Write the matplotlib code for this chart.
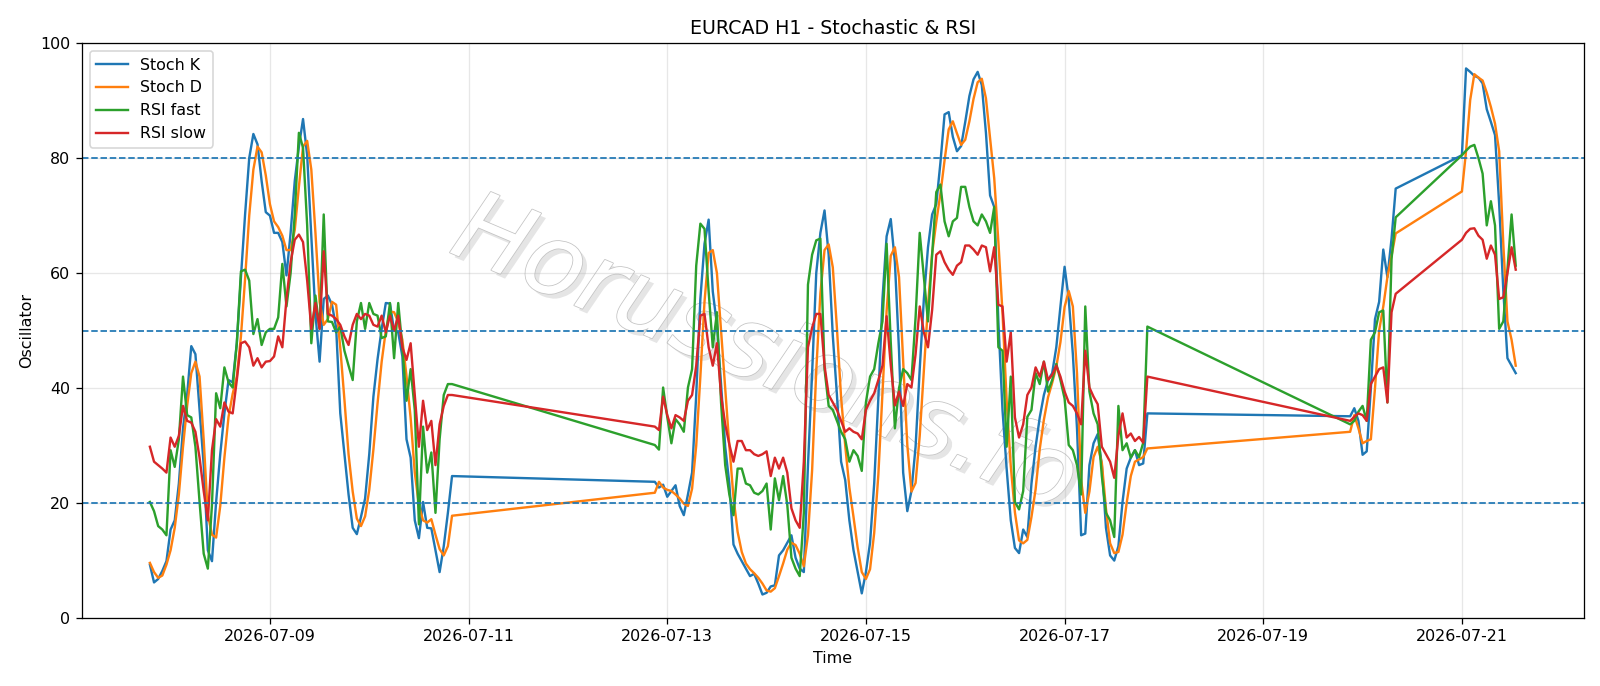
import pandas as pd
import matplotlib
matplotlib.use("Agg")
import matplotlib.pyplot as plt
import matplotlib.dates as mdates
import matplotlib.patheffects as pe

# hourly bars, market closed over the weekend + a hole on 07-20
segments = [("2026-07-07 19:00", "2026-07-10 20:00"),
            ("2026-07-12 21:00", "2026-07-17 20:00"),
            ("2026-07-19 21:00", "2026-07-20 08:00"),
            ("2026-07-21 00:00", "2026-07-21 13:00")]

stoch_k = [
    # 07-07 19:00 -> 07-10 20:00
    9.3, 6.2, 6.8, 8.2, 9.9, 15.4, 17.0, 23.4, 33.0, 38.8,
    47.3, 45.9, 36.2, 26.6, 11.8, 9.9, 20.2, 28.5, 35.6, 41.4,
    41.0, 47.8, 59.3, 70.2, 80.0, 84.2, 82.4, 76.0, 70.6, 70.0,
    67.0, 67.0, 65.4, 59.6, 67.0, 76.0, 82.0, 86.8, 80.5, 66.4,
    52.9, 44.6, 55.5, 56.1, 54.5, 50.5, 35.6, 28.5, 21.5, 15.7,
    14.6, 17.6, 20.8, 28.5, 38.5, 45.0, 50.3, 54.8, 54.7, 50.0,
    49.7, 45.5, 31.1, 27.9, 17.0, 13.9, 20.2, 15.7, 15.6, 11.8,
    8.0, 12.5, 18.3, 24.7,
    # 07-12 21:00 -> 07-17 20:00
    23.7, 22.7, 23.2, 21.1, 22.1, 23.1, 19.5, 17.9, 21.5, 25.3,
    38.8, 55.5, 65.1, 69.3, 56.8, 51.0, 40.7, 29.8, 23.4, 12.8,
    11.2, 9.9, 8.6, 7.3, 7.7, 6.0, 4.1, 4.4, 5.5, 5.7,
    10.9, 11.8, 13.1, 14.4, 10.5, 8.6, 8.0, 26.6, 42.6, 60.0,
    67.0, 70.9, 63.2, 49.1, 38.8, 27.2, 24.0, 17.0, 11.8, 8.0,
    4.3, 8.0, 13.1, 23.4, 38.2, 55.5, 66.4, 69.4, 61.9, 46.5,
    25.3, 18.6, 22.1, 29.8, 43.3, 55.5, 64.5, 70.2, 72.0, 79.2,
    87.6, 88.0, 83.7, 81.2, 82.1, 86.3, 90.8, 93.7, 95.0, 92.7,
    84.4, 73.5, 71.5, 51.6, 36.2, 26.0, 17.0, 12.2, 11.3, 15.4,
    14.1, 23.4, 29.8, 34.9, 38.8, 41.4, 42.6, 47.1, 54.2, 61.1,
    55.5, 45.9, 33.0, 14.4, 14.7, 26.6, 30.4, 32.0, 26.6, 15.7,
    10.9, 10.0, 12.5, 20.2, 26.0, 27.9, 29.2, 26.6, 26.9, 35.6,
    # 07-19 21:00 -> 07-20 08:00
    35.1, 36.5, 34.3, 28.4, 29.0, 40.0, 52.0, 55.0, 64.1, 59.3, 66.0, 74.7,
    # 07-21 00:00 -> 13:00
    80.5, 95.6, 95.0, 94.3, 94.0, 93.0, 88.5, 86.3, 84.0, 72.0, 57.0, 45.2, 43.9, 42.6,
]

stoch_d = [
    9.6, 8.0, 7.0, 7.4, 9.3, 11.8, 15.7, 21.5, 29.8, 36.9,
    42.6, 44.6, 42.0, 31.0, 18.0, 14.5, 14.0, 19.5, 27.9, 35.0,
    39.0, 42.0, 49.0, 59.0, 70.0, 78.0, 82.0, 81.0, 77.0, 72.0,
    69.0, 68.0, 66.5, 64.0, 64.0, 67.5, 75.0, 82.0, 83.0, 78.0,
    67.0, 55.0, 51.0, 52.0, 55.0, 54.5, 47.0, 38.0, 28.5, 22.0,
    17.3, 16.0, 17.7, 22.3, 29.3, 37.3, 44.6, 50.0, 53.3, 53.2,
    51.5, 48.4, 42.1, 34.8, 25.3, 19.6, 17.0, 16.6, 17.2, 14.5,
    12.0, 10.9, 12.5, 17.8,
    21.8, 23.7, 22.7, 22.3, 22.1, 21.5, 20.8, 19.9, 19.5, 22.5,
    30.0, 42.0, 55.0, 63.5, 64.0, 60.0, 50.0, 40.0, 30.0, 21.0,
    15.0, 11.5, 9.5, 8.5, 7.8, 7.0, 6.0, 4.8, 4.6, 5.2,
    7.3, 9.5, 11.9, 13.1, 12.7, 11.2, 9.0, 14.4, 25.7, 43.0,
    56.5, 64.0, 65.0, 61.0, 50.4, 38.4, 30.0, 22.7, 17.6, 12.3,
    8.0, 6.8, 8.5, 14.8, 24.9, 39.0, 53.4, 63.0, 64.5, 59.3,
    44.6, 30.1, 22.0, 23.5, 31.7, 42.9, 54.4, 63.4, 68.9, 73.8,
    79.6, 85.0, 86.4, 84.3, 82.3, 83.2, 86.4, 90.3, 93.2, 93.8,
    90.4, 83.5, 76.5, 65.5, 53.1, 37.9, 26.4, 18.4, 13.5, 13.0,
    13.6, 17.6, 22.4, 29.4, 34.5, 38.4, 40.9, 43.7, 48.0, 54.1,
    56.9, 54.2, 42.6, 24.0, 18.3, 22.0, 28.0, 29.8, 27.0, 19.0,
    13.0, 11.3, 11.5, 14.5, 20.0, 24.7, 27.2, 27.6, 28.0, 29.5,
    32.4, 35.3, 33.0, 30.4, 30.8, 31.1, 40.0, 50.0, 54.2, 59.3, 63.0, 66.9,
    74.2, 81.2, 90.1, 94.6, 94.0, 93.5, 91.4, 88.9, 86.0, 81.2, 65.1, 51.6, 48.4, 43.9,
]

rsi_fast = [
    20.2, 18.6, 16.0, 15.4, 14.4, 29.2, 26.3, 31.1, 42.0, 35.3,
    34.9, 29.8, 20.2, 11.2, 8.6, 19.7, 39.1, 36.5, 43.6, 41.0,
    40.1, 47.8, 60.3, 60.6, 58.7, 49.4, 52.0, 47.5, 49.7, 50.3,
    50.3, 52.3, 61.6, 54.2, 60.0, 70.2, 84.4, 81.8, 68.3, 47.8,
    56.1, 50.3, 70.2, 51.6, 51.5, 49.7, 50.7, 46.5, 43.9, 41.4,
    51.6, 54.8, 50.3, 54.8, 52.9, 52.6, 48.7, 49.0, 54.8, 45.2,
    54.8, 47.1, 37.8, 43.3, 36.2, 16.3, 33.3, 25.3, 28.8, 18.3,
    31.1, 38.8, 40.7, 40.7,
    30.1, 29.3, 40.1, 35.0, 30.4, 34.6, 33.7, 32.4, 40.1, 43.3,
    61.3, 68.6, 67.7, 56.8, 47.1, 53.2, 37.5, 26.6, 21.5, 17.9,
    26.0, 26.0, 23.4, 23.1, 21.8, 21.5, 22.1, 23.4, 15.4, 24.3,
    20.5, 24.7, 19.7, 10.5, 8.6, 7.3, 18.3, 58.0, 63.2, 65.7,
    66.0, 43.3, 36.9, 36.2, 34.3, 32.4, 31.1, 27.2, 29.2, 28.2,
    25.6, 37.5, 42.0, 43.3, 47.8, 51.6, 65.1, 48.0, 33.0, 40.0,
    43.3, 42.6, 41.4, 52.3, 67.0, 59.3, 51.6, 63.2, 74.1, 75.4,
    69.0, 66.4, 69.0, 69.6, 75.0, 75.0, 71.5, 69.0, 68.3, 70.2,
    69.0, 67.0, 71.5, 47.1, 46.5, 29.8, 42.0, 20.2, 18.9, 22.1,
    35.0, 36.2, 42.6, 40.7, 44.6, 39.4, 41.4, 44.2, 41.4, 38.2,
    30.1, 29.2, 26.6, 21.5, 54.2, 39.4, 35.6, 33.7, 24.7, 18.3,
    17.0, 14.1, 36.9, 29.2, 30.4, 27.9, 29.2, 28.0, 30.5, 50.7,
    33.7, 34.3, 35.9, 36.9, 34.3, 48.4, 49.7, 53.2, 53.5, 37.5, 62.5, 69.7,
    80.5, 81.3, 82.0, 82.3, 80.0, 77.3, 68.3, 72.5, 68.3, 50.3, 51.6, 60.6, 70.2, 61.3,
]

rsi_slow = [
    29.8, 27.2, 26.6, 26.0, 25.3, 31.4, 29.8, 31.7, 36.9, 34.3,
    34.0, 32.4, 27.9, 22.1, 17.0, 29.2, 34.6, 33.3, 37.5, 35.9,
    35.6, 41.4, 47.8, 48.1, 47.1, 43.9, 45.2, 43.6, 44.6, 44.7,
    45.5, 49.0, 47.1, 55.5, 61.9, 65.8, 66.7, 65.4, 58.7, 50.3,
    54.8, 50.3, 63.8, 52.9, 52.6, 52.0, 51.0, 49.0, 47.5, 51.0,
    52.9, 52.0, 52.9, 52.6, 51.0, 50.7, 52.6, 49.7, 52.6, 50.0,
    52.6, 47.1, 44.9, 47.8, 38.8, 29.8, 37.8, 32.7, 34.3, 26.6,
    33.7, 36.9, 38.8, 38.8,
    33.3, 32.7, 38.5, 35.3, 33.0, 35.3, 34.9, 34.3, 37.8, 38.8,
    43.9, 52.6, 52.9, 47.1, 43.9, 47.8, 38.8, 33.7, 30.2, 27.2,
    30.8, 30.8, 29.2, 29.2, 28.5, 28.2, 28.5, 29.0, 24.7, 27.9,
    26.0, 27.9, 25.3, 19.1, 17.0, 15.7, 27.2, 47.1, 50.5, 52.9,
    52.9, 43.9, 38.8, 37.5, 36.2, 34.3, 32.4, 33.0, 32.4, 32.1,
    31.1, 36.2, 37.8, 39.1, 41.4, 43.9, 52.5, 44.0, 37.0, 39.4,
    36.9, 40.7, 40.1, 45.9, 54.2, 49.7, 47.1, 53.6, 63.2, 63.8,
    61.9, 60.6, 59.7, 61.3, 61.9, 64.8, 64.8, 64.1, 63.2, 64.8,
    64.5, 60.3, 64.5, 54.5, 54.2, 44.6, 49.7, 34.9, 31.4, 33.7,
    38.8, 40.1, 43.6, 42.0, 44.6, 41.4, 42.3, 43.9, 42.0, 39.4,
    37.5, 36.9, 35.6, 33.7, 46.5, 40.1, 38.5, 37.2, 29.8, 28.5,
    27.2, 24.4, 31.7, 35.6, 31.4, 32.1, 30.8, 31.5, 30.5, 42.0,
    34.3, 35.0, 35.6, 35.3, 34.3, 40.7, 42.0, 43.3, 43.6, 37.5, 53.2, 56.4,
    65.8, 67.0, 67.7, 67.8, 66.5, 65.8, 62.5, 64.8, 63.2, 55.5, 55.8, 60.0, 64.5, 60.6,
]

levels = [20, 50, 80]
tick_days = ["2026-07-09", "2026-07-11", "2026-07-13", "2026-07-15",
             "2026-07-17", "2026-07-19", "2026-07-21"]

times = pd.DatetimeIndex([])
for start, end in segments:
    times = times.append(pd.date_range(start, end, freq="h"))

dpi = 1600 / 14
fig, ax = plt.subplots(figsize=(14.0001, 686.1 / dpi), dpi=dpi)
fig.subplots_adjust(left=0.051, right=0.990, top=0.937, bottom=0.099)

ax.plot(times, stoch_k, label="Stoch K")
ax.plot(times, stoch_d, label="Stoch D")
ax.plot(times, rsi_fast, label="RSI fast")
ax.plot(times, rsi_slow, label="RSI slow")

for lv in levels:
    ax.axhline(lv, color="tab:blue", linestyle="--", linewidth=1.1)

ax.set_ylim(0, 100)
ax.set_xticks(pd.to_datetime(tick_days))
ax.xaxis.set_major_formatter(mdates.DateFormatter("%Y-%m-%d"))
ax.grid(True, alpha=0.3)
ax.set_title("EURCAD H1 - Stochastic & RSI")
ax.set_xlabel("Time")
ax.set_ylabel("Oscillator")
ax.legend(loc="upper left")

# watermark
ax.text(0.455, 0.455, "Horussions.fo", transform=ax.transAxes, fontsize=62,
        style="italic", color="white", rotation=-23, ha="center", va="center",
        zorder=0.5,
        path_effects=[pe.SimplePatchShadow(offset=(3, -3), shadow_rgbFace="#aaaaaa", alpha=0.3),
                      pe.Stroke(linewidth=1.0, foreground="#c4c4c4"),
                      pe.Normal()])

fig.savefig("out.png", dpi=dpi)
